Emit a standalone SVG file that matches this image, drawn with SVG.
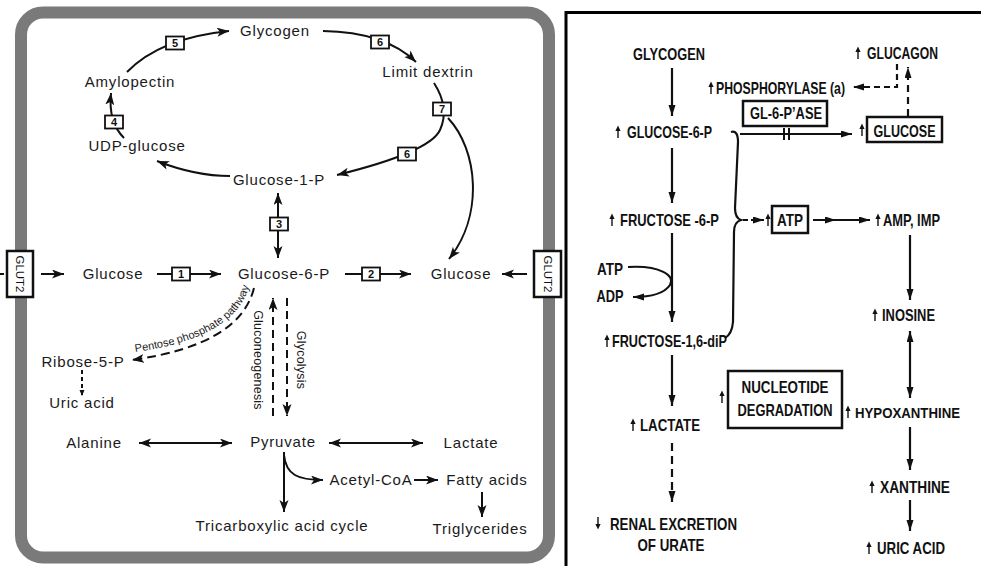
<svg xmlns="http://www.w3.org/2000/svg" xmlns:xlink="http://www.w3.org/1999/xlink" width="981" height="566" viewBox="0 0 981 566">
<style>
.lt{font-family:"Liberation Sans",Arial,sans-serif;font-size:15px;letter-spacing:0.8px;fill:#1a1a1a;text-anchor:middle}
.pp{font-family:"Liberation Sans",Arial,sans-serif;font-size:11px;fill:#1a1a1a}
.vt{font-family:"Liberation Sans",Arial,sans-serif;font-size:12.5px;letter-spacing:0.2px;fill:#1a1a1a;text-anchor:middle}
.num{font-family:"Liberation Sans",Arial,sans-serif;font-weight:bold;font-size:11px;fill:#111;text-anchor:middle}
.nb{fill:#fff;stroke:#111;stroke-width:1.8}
.gl{font-family:"Liberation Sans",Arial,sans-serif;font-size:11.5px;fill:#111;text-anchor:middle}
.rt{font-family:"Liberation Sans",Arial,sans-serif;font-weight:bold;font-size:16.5px;fill:#111}
.mid{text-anchor:middle}
.ln{fill:none;stroke:#111;stroke-width:2}
.rl{fill:none;stroke:#111;stroke-width:2.2}
.rb{fill:#fff;stroke:#111;stroke-width:2.5}
</style>
<defs>
<marker id="ah" markerUnits="userSpaceOnUse" markerWidth="13" markerHeight="10" refX="12" refY="4.5" orient="auto-start-reverse" viewBox="0 0 13 10">
<path d="M0,0 L12,4.5 L0,9 L3,4.5 Z" fill="#111"/>
</marker>
<marker id="sh" markerUnits="userSpaceOnUse" markerWidth="7" markerHeight="6" refX="6" refY="2.5" orient="auto" viewBox="0 0 7 6">
<path d="M0,0 L6,2.5 L0,5 Z" fill="#111"/>
</marker>
<marker id="rh" markerUnits="userSpaceOnUse" markerWidth="12" markerHeight="8" refX="11" refY="3.5" orient="auto-start-reverse" viewBox="0 0 12 8">
<path d="M0,0 L11,3.5 L0,7 Z" fill="#111"/>
</marker>
<g id="up"><path d="M0,-6.5 L2.6,-1 L-2.6,-1 Z" fill="#111"/><path d="M0,-2 V6" stroke="#111" stroke-width="1.4"/></g>
<g id="dn"><path d="M0,6.5 L2.6,1 L-2.6,1 Z" fill="#111"/><path d="M0,2 V-6" stroke="#111" stroke-width="1.4"/></g>
</defs>
<rect width="981" height="566" fill="#fff"/>

<!-- LEFT PANEL frame -->
<g id="cell">
<rect x="21" y="12.5" width="528" height="545" rx="22" fill="#fff" stroke="#7a7a7a" stroke-width="12"/>
</g>

<!-- connectors left -->
<g id="connectors-left">
<path class="ln" d="M127,72 Q160,38 229,31" marker-end="url(#ah)"/>
<path class="ln" d="M323,31 Q385,32 416,62" marker-end="url(#ah)"/>
<path class="ln" d="M434,83 Q450,108 440,130 T337,175" marker-end="url(#ah)"/>
<path class="ln" d="M448,118 C478,150 484,215 449,259" marker-end="url(#ah)"/>
<path class="ln" d="M230,176 Q195,176 157,161" marker-end="url(#ah)"/>
<path class="ln" d="M124,138 Q108,122 111,93" marker-end="url(#ah)"/>
<path class="ln" d="M278,193 L278,258" marker-start="url(#ah)" marker-end="url(#ah)"/>
<path class="ln" d="M0,274 L4,274"/>
<path class="ln" d="M41,274 L64,274" marker-end="url(#ah)"/>
<path class="ln" d="M157,274 L221,274" marker-end="url(#ah)"/>
<path class="ln" d="M345,274 L411,274" marker-end="url(#ah)"/>
<path class="ln" d="M527,274 L502,274" marker-end="url(#ah)"/>
<path class="ln" d="M254,288 Q240,345 132,360" stroke-width="2.5" stroke-dasharray="9 5" marker-end="url(#ah)"/>
<path class="ln" d="M82,370 L82,396" stroke-width="1.3" stroke-dasharray="4 3" marker-end="url(#sh)"/>
<path class="ln" d="M273,416 L273,298" stroke-width="3" stroke-dasharray="8 5" marker-end="url(#ah)"/>
<path class="ln" d="M287,298 L287,416" stroke-width="3" stroke-dasharray="8 5" marker-end="url(#ah)"/>
<path class="ln" d="M139,443 L232,443" marker-start="url(#ah)" marker-end="url(#ah)"/>
<path class="ln" d="M329,443 L423,443" marker-start="url(#ah)" marker-end="url(#ah)"/>
<path class="ln" d="M284,452 L284,512" stroke-width="2.3" marker-end="url(#ah)"/>
<path class="ln" d="M284,455 C286,475 298,480 323,480" stroke-width="2.3" marker-end="url(#ah)"/>
<path class="ln" d="M414,480 L438,480" marker-end="url(#ah)"/>
<path class="ln" d="M482,492 L482,517" stroke-width="2.3" marker-end="url(#ah)"/>
<path id="pptext" d="M136,352 Q234,338 249,287" fill="none"/>
</g>

<!-- enzyme number boxes -->
<g id="step5"><rect class="nb" x="166" y="36.5" width="18" height="13"/><text class="num" x="175" y="47">5</text></g>
<g id="step6a"><rect class="nb" x="371" y="35.5" width="18" height="13"/><text class="num" x="380" y="46">6</text></g>
<g id="step7"><rect class="nb" x="433" y="102.5" width="18" height="13"/><text class="num" x="442" y="113">7</text></g>
<g id="step6b"><rect class="nb" x="398" y="147.5" width="18" height="13"/><text class="num" x="407" y="158">6</text></g>
<g id="step4"><rect class="nb" x="105" y="115.5" width="18" height="13"/><text class="num" x="114" y="126">4</text></g>
<g id="step3"><rect class="nb" x="270" y="217.5" width="18" height="13"/><text class="num" x="279" y="228">3</text></g>
<g id="step1"><rect class="nb" x="172" y="267.5" width="18" height="13"/><text class="num" x="181" y="278">1</text></g>
<g id="step2"><rect class="nb" x="362" y="267.5" width="18" height="13"/><text class="num" x="371" y="278">2</text></g>

<!-- GLUT2 transporters -->
<g id="glut2-left"><rect x="7" y="251" width="26" height="46" fill="#fff" stroke="#111" stroke-width="2.5"/><text class="gl" x="20" y="278" transform="rotate(90 20 274)">GLUT2</text></g>
<g id="glut2-right"><rect x="534" y="251" width="27" height="46" fill="#fff" stroke="#111" stroke-width="2.5"/><text class="gl" x="547.5" y="278" transform="rotate(90 547.5 274)">GLUT2</text></g>

<!-- left nodes -->
<g id="glycogen"><text class="lt" x="275" y="36">Glycogen</text></g>
<g id="limit-dextrin"><text class="lt" x="428" y="77">Limit dextrin</text></g>
<g id="amylopectin"><text class="lt" x="130" y="87">Amylopectin</text></g>
<g id="udp-glucose"><text class="lt" x="137" y="151">UDP-glucose</text></g>
<g id="glucose-1-p"><text class="lt" x="279" y="185">Glucose-1-P</text></g>
<g id="glucose-in"><text class="lt" x="113" y="279">Glucose</text></g>
<g id="glucose-6-p"><text class="lt" x="284" y="279">Glucose-6-P</text></g>
<g id="glucose-out"><text class="lt" x="461" y="279">Glucose</text></g>
<g id="ppp-label"><text class="pp"><textPath xlink:href="#pptext" href="#pptext" startOffset="50%" text-anchor="middle">Pentose phosphate pathway</textPath></text></g>
<g id="ribose-5-p"><text class="lt" x="83" y="367">Ribose-5-P</text></g>
<g id="uric-acid-l"><text class="lt" x="82" y="408">Uric acid</text></g>
<g id="gluconeogenesis"><text class="vt" x="258" y="364.5" transform="rotate(90 258 360)">Gluconeogenesis</text></g>
<g id="glycolysis"><text class="vt" x="301" y="364.5" transform="rotate(90 301 360)">Glycolysis</text></g>
<g id="alanine"><text class="lt" x="94" y="448">Alanine</text></g>
<g id="pyruvate"><text class="lt" x="283" y="447">Pyruvate</text></g>
<g id="lactate-l"><text class="lt" x="471" y="448">Lactate</text></g>
<g id="acetyl-coa"><text class="lt" x="371" y="485">Acetyl-CoA</text></g>
<g id="fatty-acids"><text class="lt" x="487" y="485">Fatty acids</text></g>
<g id="tca"><text class="lt" x="282" y="531">Tricarboxylic acid cycle</text></g>
<g id="triglycerides"><text class="lt" x="480" y="534">Triglycerides</text></g>

<!-- RIGHT PANEL frame -->
<g id="right-frame">
<path d="M566,566 V12.5 H981" fill="none" stroke="#000" stroke-width="3"/>
</g>

<g id="connectors-right">
<path class="rl" d="M672,68 L672,116" marker-end="url(#rh)"/>
<path class="rl" d="M672,148 L672,203" marker-end="url(#rh)"/>
<path class="rl" d="M672,233 L672,322" marker-end="url(#rh)"/>
<path class="rl" d="M672,355 L672,406" marker-end="url(#rh)"/>
<path class="rl" d="M672,443 L672,502" stroke-dasharray="8 5" marker-end="url(#rh)"/>
<path class="rl" d="M628,267 C660,265 676,276 670,285 C664,294 650,297 633,297" marker-end="url(#rh)"/>
<path class="rl" d="M731,132 Q738,130 738,142 L735,208 Q735,218 741,220 Q734,222 734,232 L733,322 Q732,334 725,338"/>
<path class="rl" d="M743,220 L764,220" stroke-dasharray="5 3" marker-end="url(#rh)"/>
<path class="rl" d="M740,134 L852,134" stroke-width="2.6" marker-end="url(#rh)"/>
<path d="M784,128 V140 M789,128 V140" stroke="#111" stroke-width="2"/>
<path class="rl" d="M897,64 L897,87 L853,87" stroke-dasharray="6 4" marker-end="url(#rh)"/>
<path class="rl" d="M908,116 L908,67" stroke-dasharray="7 5" marker-end="url(#rh)"/>
<path class="rl" d="M813,220 L836,220 L870,220" marker-mid="url(#rh)" marker-end="url(#rh)"/>
<path class="rl" d="M910,235 L910,300" marker-end="url(#rh)"/>
<path class="rl" d="M910,331 L910,398" marker-start="url(#rh)" marker-end="url(#rh)"/>
<path class="rl" d="M910,427 L910,470" marker-end="url(#rh)"/>
<path class="rl" d="M910,500 L910,531" marker-end="url(#rh)"/>
</g>

<!-- right nodes -->
<g id="r-glycogen"><text class="rt mid" x="669" y="60" textLength="72" lengthAdjust="spacingAndGlyphs">GLYCOGEN</text></g>
<g id="r-g6p"><use href="#up" xlink:href="#up" x="618" y="132"/><text class="rt" x="627" y="138" textLength="85" lengthAdjust="spacingAndGlyphs">GLUCOSE-6-P</text></g>
<g id="r-phosphorylase"><use href="#up" xlink:href="#up" x="711" y="88"/><text class="rt" x="716" y="94" textLength="129" lengthAdjust="spacingAndGlyphs">PHOSPHORYLASE (a)</text></g>
<g id="r-glucagon"><use href="#up" xlink:href="#up" x="858" y="53"/><text class="rt" x="867" y="59" textLength="71" lengthAdjust="spacingAndGlyphs">GLUCAGON</text></g>
<g id="r-gl6pase"><rect class="rb" x="743" y="101" width="84" height="25"/><text class="rt mid" x="786" y="119" textLength="72" lengthAdjust="spacingAndGlyphs">GL-6-P’ASE</text></g>
<g id="r-glucose"><use href="#up" xlink:href="#up" x="862" y="130"/><rect class="rb" x="867" y="117" width="75" height="25"/><text class="rt mid" x="904.5" y="137" textLength="62" lengthAdjust="spacingAndGlyphs">GLUCOSE</text></g>
<g id="r-f6p"><use href="#up" xlink:href="#up" x="612" y="220"/><text class="rt" x="620" y="226" textLength="99" lengthAdjust="spacingAndGlyphs">FRUCTOSE -6-P</text></g>
<g id="r-atp-box"><use href="#up" xlink:href="#up" x="768" y="220"/><rect class="rb" x="772" y="206" width="36" height="27"/><text class="rt mid" x="790" y="226" textLength="26" lengthAdjust="spacingAndGlyphs">ATP</text></g>
<g id="r-amp"><use href="#up" xlink:href="#up" x="878" y="220"/><text class="rt" x="883" y="226" textLength="57" lengthAdjust="spacingAndGlyphs">AMP, IMP</text></g>
<g id="r-atp"><text class="rt mid" x="610" y="275" textLength="26" lengthAdjust="spacingAndGlyphs">ATP</text></g>
<g id="r-adp"><text class="rt mid" x="610" y="302" textLength="27" lengthAdjust="spacingAndGlyphs">ADP</text></g>
<g id="r-inosine"><use href="#up" xlink:href="#up" x="875" y="315"/><text class="rt" x="882" y="321" textLength="53" lengthAdjust="spacingAndGlyphs">INOSINE</text></g>
<g id="r-f16dip"><use href="#up" xlink:href="#up" x="607" y="341"/><text class="rt" x="612" y="347" textLength="115" lengthAdjust="spacingAndGlyphs">FRUCTOSE-1,6-diP</text></g>
<g id="r-nucleotide"><use href="#up" xlink:href="#up" x="722" y="397"/><rect class="rb" x="728" y="371" width="114" height="57"/><text class="rt mid" x="785" y="393" textLength="87" lengthAdjust="spacingAndGlyphs">NUCLEOTIDE</text><text class="rt mid" x="785" y="416" textLength="95" lengthAdjust="spacingAndGlyphs">DEGRADATION</text></g>
<g id="r-lactate"><use href="#up" xlink:href="#up" x="633" y="425"/><text class="rt" x="640" y="431" textLength="60" lengthAdjust="spacingAndGlyphs">LACTATE</text></g>
<g id="r-hypoxanthine"><use href="#up" xlink:href="#up" x="848" y="412"/><text class="rt" x="855" y="418" font-size="14.8" textLength="105" lengthAdjust="spacingAndGlyphs" style="font-size:14.8px">HYPOXANTHINE</text></g>
<g id="r-xanthine"><use href="#up" xlink:href="#up" x="872" y="487"/><text class="rt" x="880" y="493" textLength="70" lengthAdjust="spacingAndGlyphs">XANTHINE</text></g>
<g id="r-renal"><use href="#dn" xlink:href="#dn" x="598" y="523"/><text class="rt" x="610" y="530" textLength="127" lengthAdjust="spacingAndGlyphs">RENAL EXCRETION</text><text class="rt mid" x="671" y="551" textLength="67" lengthAdjust="spacingAndGlyphs">OF URATE</text></g>
<g id="r-uric"><use href="#up" xlink:href="#up" x="869" y="548"/><text class="rt" x="877" y="554" textLength="68" lengthAdjust="spacingAndGlyphs">URIC ACID</text></g>
</svg>
